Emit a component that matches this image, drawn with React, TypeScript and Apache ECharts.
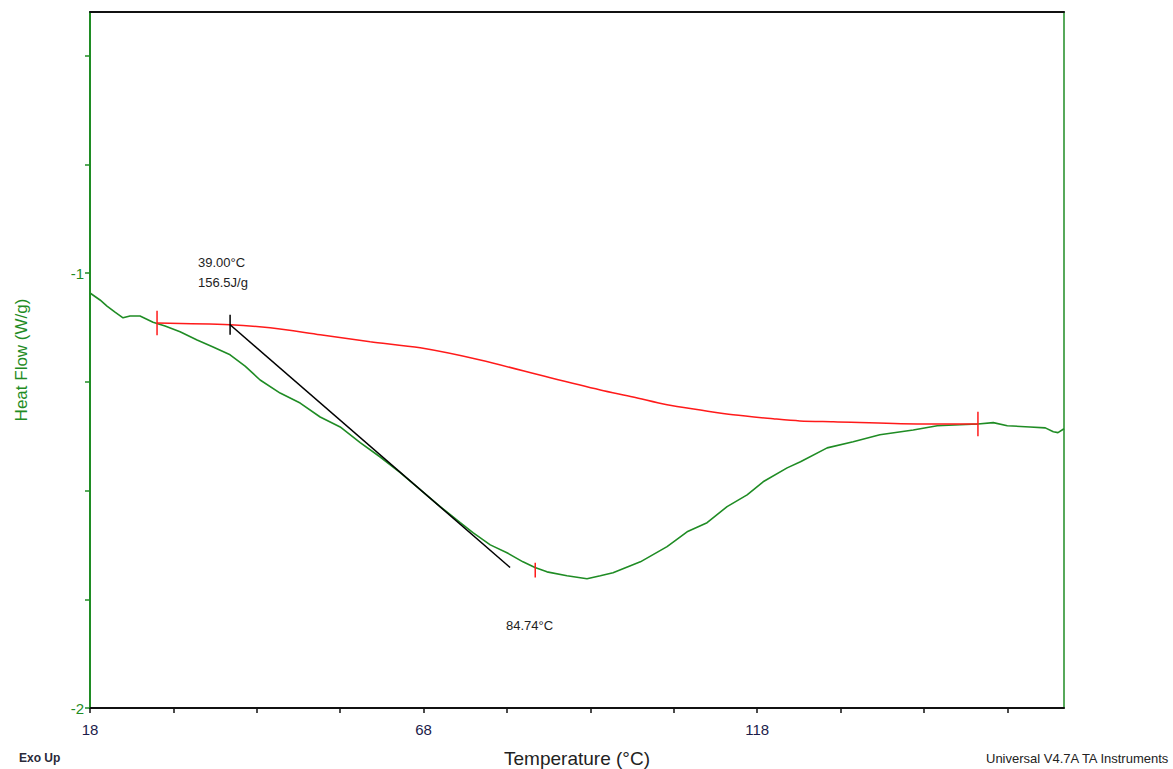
import React, { useEffect, useRef } from "react";
import * as echarts from "echarts";

// Heat flow trace (temperature °C, W/g)
const temps = [
  18.0, 19.5, 20.55, 21.75, 22.95, 24.0, 25.5, 27.45, 29.25, 31.5, 34.05, 36.45,
  39.0, 41.25, 43.5, 46.5, 49.5, 52.5, 55.5, 58.5, 61.5, 64.5, 67.5, 70.5, 73.5,
  75.4, 78.0, 80.5, 82.9, 84.7, 86.5, 89.5, 92.5, 94.5, 96.4, 100.5, 104.5, 107.5,
  110.5, 113.5, 116.5, 118.9, 122.5, 124.5, 128.5, 132.4, 136.4, 141.4, 145.0,
  148.4, 151.1, 153.4, 155.5, 158.9, 161.2, 162.4, 163.1, 164.0,
];
const heatFlow = [
  -1.046, -1.062, -1.076, -1.09, -1.103, -1.099, -1.099, -1.113, -1.122, -1.135,
  -1.154, -1.17, -1.188, -1.214, -1.246, -1.276, -1.299, -1.331, -1.354, -1.39,
  -1.423, -1.459, -1.498, -1.537, -1.574, -1.597, -1.625, -1.643, -1.664, -1.677,
  -1.687, -1.696, -1.703, -1.696, -1.689, -1.664, -1.629, -1.595, -1.574, -1.537,
  -1.51, -1.48, -1.448, -1.434, -1.402, -1.388, -1.372, -1.361, -1.351, -1.349,
  -1.347, -1.344, -1.351, -1.354, -1.356, -1.365, -1.367, -1.358,
];

// Sigmoidal integration baseline
const baseTemps = [
  28.05, 39.0, 45.0, 52.5, 60.0, 67.5, 76.5, 87.0, 94.5, 99.4, 104.5, 109.5,
  114.4, 120.4, 124.4, 129.4, 142.0, 151.1,
];
const baseFlow = [
  -1.115, -1.119, -1.126, -1.142, -1.158, -1.172, -1.2, -1.241, -1.269, -1.285,
  -1.303, -1.315, -1.326, -1.335, -1.34, -1.342, -1.347, -1.347,
];

// Onset tangent
const tangentTemps = [39.0, 80.97];
const tangentFlow = [-1.119, -1.677];

// Analysis markers: [temperature, flow, half-height]
const limitMarks = [
  [28.05, -1.115, 0.028],
  [151.1, -1.347, 0.028],
  [84.74, -1.683, 0.017],
];
const onsetMark = [39.0, -1.119, 0.023];

const xTicks = [18, 30.5, 43, 55.5, 68, 80.5, 93, 105.5, 118, 130.5, 143, 155.5];
const xLabels = [18, 68, 118];
const yTicks = [-2, -1.75, -1.5, -1.25, -1, -0.75, -0.5];
const yLabels = [-2, -1];

const GREEN = "#1f8c24";
const RED = "#ff1a1a";
const FONT = "Liberation Sans, Arial, sans-serif";

const pairs = (xs: number[], ys: number[]) => xs.map((x, i) => [x, ys[i]]);

const markSeries = (m: number[], color: string) => ({
  type: "line",
  data: [
    [m[0], m[1] - m[2]],
    [m[0], m[1] + m[2]],
  ],
  symbol: "none",
  lineStyle: { color, width: 1.5 },
  silent: true,
  z: 5,
});

export default function App() {
  const ref = useRef<HTMLDivElement>(null);

  useEffect(() => {
    if (!ref.current) return;
    const chart = echarts.init(ref.current, null, { renderer: "svg" });
    chart.setOption({
      animation: false,
      backgroundColor: "#ffffff",
      grid: { left: 90, right: 109, top: 12, bottom: 61, outerBoundsMode: "none", containLabel: false },
      xAxis: [
        {
          type: "value",
          min: 18,
          max: 164,
          position: "bottom",
          axisLine: { show: true, onZero: false, lineStyle: { color: "#111", width: 2 } },
          axisTick: {
            show: true,
            customValues: xTicks,
            length: 5,
            inside: false,
            lineStyle: { color: "#111", width: 1.5 },
          },
          axisLabel: {
            customValues: xLabels,
            color: "#1c1c4a",
            fontFamily: FONT,
            fontSize: 15,
            margin: 14,
          },
          splitLine: { show: false },
          name: "Temperature (°C)",
          nameLocation: "middle",
          nameGap: 41,
          nameTextStyle: { color: "#222", fontFamily: FONT, fontSize: 19 },
        },
        {
          type: "value",
          min: 18,
          max: 164,
          position: "top",
          axisLine: { show: true, onZero: false, lineStyle: { color: "#111", width: 2 } },
          axisTick: { show: false },
          axisLabel: { show: false },
          splitLine: { show: false },
        },
      ],
      yAxis: [
        {
          type: "value",
          min: -2,
          max: -0.4,
          position: "left",
          axisLine: { show: true, onZero: false, lineStyle: { color: GREEN, width: 2 } },
          axisTick: {
            show: true,
            customValues: yTicks,
            length: 5,
            inside: false,
            lineStyle: { color: GREEN, width: 1.5 },
          },
          axisLabel: {
            customValues: yLabels,
            color: GREEN,
            fontFamily: FONT,
            fontSize: 15,
            margin: 6,
          },
          splitLine: { show: false },
          name: "Heat Flow (W/g)",
          nameLocation: "middle",
          nameGap: 60,
          nameRotate: 90,
          nameTextStyle: { color: GREEN, fontFamily: FONT, fontSize: 17 },
        },
        {
          type: "value",
          min: -2,
          max: -0.4,
          position: "right",
          axisLine: { show: true, onZero: false, lineStyle: { color: GREEN, width: 1.5 } },
          axisTick: { show: false },
          axisLabel: { show: false },
          splitLine: { show: false },
        },
      ],
      series: [
        {
          type: "line",
          data: pairs(temps, heatFlow),
          symbol: "none",
          lineStyle: { color: GREEN, width: 1.6 },
          z: 3,
        },
        {
          type: "line",
          data: pairs(baseTemps, baseFlow),
          symbol: "none",
          smooth: 0.3,
          lineStyle: { color: RED, width: 1.5 },
          z: 4,
        },
        {
          type: "line",
          data: pairs(tangentTemps, tangentFlow),
          symbol: "none",
          lineStyle: { color: "#000", width: 1.5 },
          z: 4,
        },
        ...limitMarks.map((m) => markSeries(m, RED)),
        markSeries(onsetMark, "#000"),
      ],
      graphic: [
        {
          type: "text",
          left: 198,
          top: 252,
          style: { text: "39.00°C\n156.5J/g", fill: "#222", font: `13px ${FONT}`, lineHeight: 20 },
        },
        {
          type: "text",
          left: 506,
          top: 619,
          style: { text: "84.74°C", fill: "#222", font: `13px ${FONT}` },
        },
        {
          type: "text",
          left: 19,
          top: 752,
          style: { text: "Exo Up", fill: "#2a2a3a", font: `bold 12px ${FONT}` },
        },
        {
          type: "text",
          right: 3,
          top: 752,
          style: { text: "Universal V4.7A TA Instruments", fill: "#222", font: `13px ${FONT}` },
        },
      ],
    });
    return () => chart.dispose();
  }, []);

  return (
    <div
      ref={ref}
      style={{ position: "fixed", left: 0, top: 0, width: 1173, height: 769, background: "#fff" }}
    />
  );
}
